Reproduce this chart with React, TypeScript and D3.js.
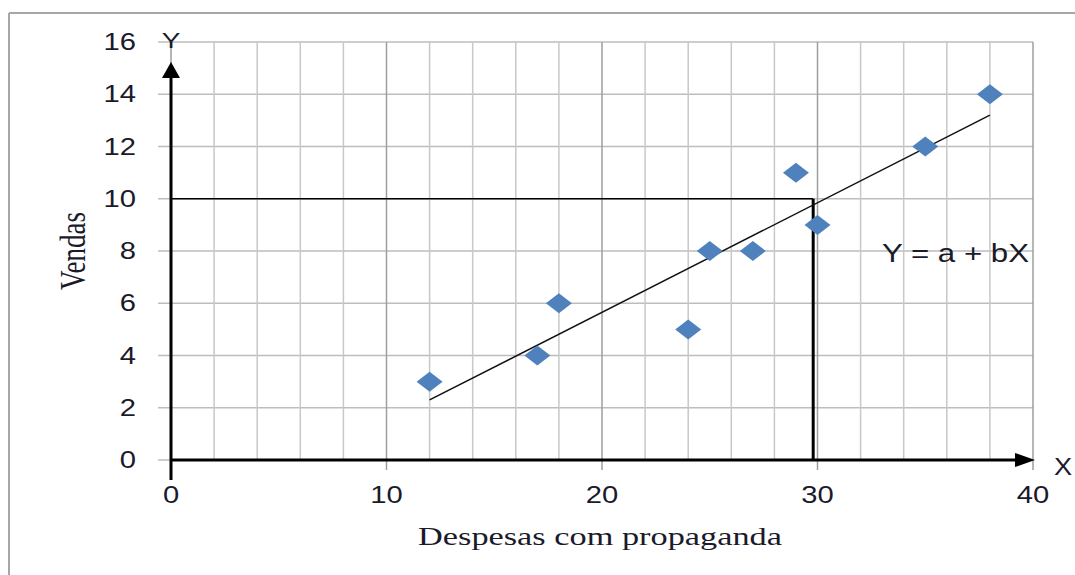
import React from "react";
import * as d3 from "d3";

const xValues = [12, 17, 18, 24, 25, 27, 29, 30, 35, 38];
const yValues = [3, 4, 6, 5, 8, 8, 11, 9, 12, 14];
const xTicks = [0, 10, 20, 30, 40];
const yTicks = [0, 2, 4, 6, 8, 10, 12, 14, 16];
const xGrid = d3.range(0, 41, 2);
const trendX = [12, 38];
const trendY = [2.3, 13.2];
const refX = 29.8;
const refY = 10;

export default function App() {
  const W = 1075, H = 575;
  const x = d3.scaleLinear().domain([0, 40]).range([171, 1033]);
  const y = d3.scaleLinear().domain([0, 16]).range([460, 42]);
  const tickFont = "'Liberation Sans', Arial, sans-serif";
  const serif = "'Liberation Serif', 'Times New Roman', serif";
  const line = d3.line<number>().x((_, i) => x(trendX[i])).y((d) => y(d));
  const diamond = (cx: number, cy: number) =>
    `M${cx},${cy - 10}L${cx + 13},${cy}L${cx},${cy + 10}L${cx - 13},${cy}Z`;
  const SX = 1.27;

  return (
    <svg
      width={W}
      height={H}
      style={{ position: "absolute", left: 0, top: 0, background: "#fff" }}
    >
      {/* frame */}
      <line x1={9} y1={13} x2={1075} y2={13} stroke="#a6a6a6" strokeWidth={2} />
      <line x1={9} y1={13} x2={9} y2={575} stroke="#a6a6a6" strokeWidth={2} />

      {/* horizontal grid */}
      {yTicks.map((t) => (
        <line key={"h" + t} x1={158} x2={x(40)} y1={y(t)} y2={y(t)} stroke="#bdbdbd" strokeWidth={1.5} />
      ))}
      {/* vertical grid */}
      {xGrid.map((t) => (
        <line
          key={"v" + t}
          x1={x(t)}
          x2={x(t)}
          y1={y(16)}
          y2={t % 10 === 0 ? 470 : y(0)}
          stroke={t % 10 === 0 ? "#9e9e9e" : "#c8c8c8"}
          strokeWidth={1.5}
        />
      ))}

      {/* tick labels */}
      {yTicks.map((t) => (
        <g key={"yl" + t} transform={`translate(136,${y(t) + 8}) scale(${SX},1)`}>
          <text x={0} y={0} textAnchor="end" fontFamily={tickFont} fontSize={23} fill="#1a1a2a">
            {t}
          </text>
        </g>
      ))}
      {xTicks.map((t) => (
        <g key={"xl" + t} transform={`translate(${x(t)},503) scale(${SX},1)`}>
          <text x={0} y={0} textAnchor="middle" fontFamily={tickFont} fontSize={23} fill="#1a1a2a">
            {t}
          </text>
        </g>
      ))}

      {/* reference lines */}
      <line x1={x(0)} x2={x(refX)} y1={y(refY)} y2={y(refY)} stroke="#000" strokeWidth={1.5} />
      <line x1={x(refX)} x2={x(refX)} y1={y(refY)} y2={y(0)} stroke="#000" strokeWidth={3} />

      {/* trend line */}
      <path d={line(trendY) || ""} fill="none" stroke="#111" strokeWidth={1.5} />

      {/* axes with arrows */}
      <line x1={x(0)} x2={1018} y1={y(0)} y2={y(0)} stroke="#000" strokeWidth={3} />
      <path d={`M1035,${y(0)}L1015,${y(0) - 7}L1015,${y(0) + 7}Z`} fill="#000" />
      <line x1={x(0)} x2={x(0)} y1={480} y2={76} stroke="#000" strokeWidth={3} />
      <path d={`M${x(0)},62L${x(0) - 9},78L${x(0) + 9},78Z`} fill="#000" />
      <g transform={`translate(${x(0)},48) scale(${SX},1)`}>
        <text x={0} y={0} textAnchor="middle" fontFamily={tickFont} fontSize={22} fill="#1a1a2a">Y</text>
      </g>
      <g transform={`translate(1054,475) scale(1.18,1)`}>
        <text x={0} y={0} fontFamily={tickFont} fontSize={23} fill="#1a1a2a">X</text>
      </g>

      {/* points */}
      {xValues.map((v, i) => (
        <path key={"p" + i} d={diamond(x(v), y(yValues[i]))} fill="#4f81bd" />
      ))}

      {/* equation */}
      <g transform={`translate(882,262) scale(1.25,1)`}>
        <text x={0} y={0} fontFamily={tickFont} fontSize={25} fill="#1a1a2a">Y = a + bX</text>
      </g>

      {/* axis titles */}
      <g transform={`translate(85,251) scale(1.32,1) rotate(-90)`}>
        <text x={0} y={0} textAnchor="middle" fontFamily={serif} fontSize={27} fill="#1a1a2a">
          Vendas
        </text>
      </g>
      <g transform={`translate(600,545) scale(1.32,1)`}>
        <text x={0} y={0} textAnchor="middle" fontFamily={serif} fontSize={26} fill="#1a1a2a">
          Despesas com propaganda
        </text>
      </g>
    </svg>
  );
}
